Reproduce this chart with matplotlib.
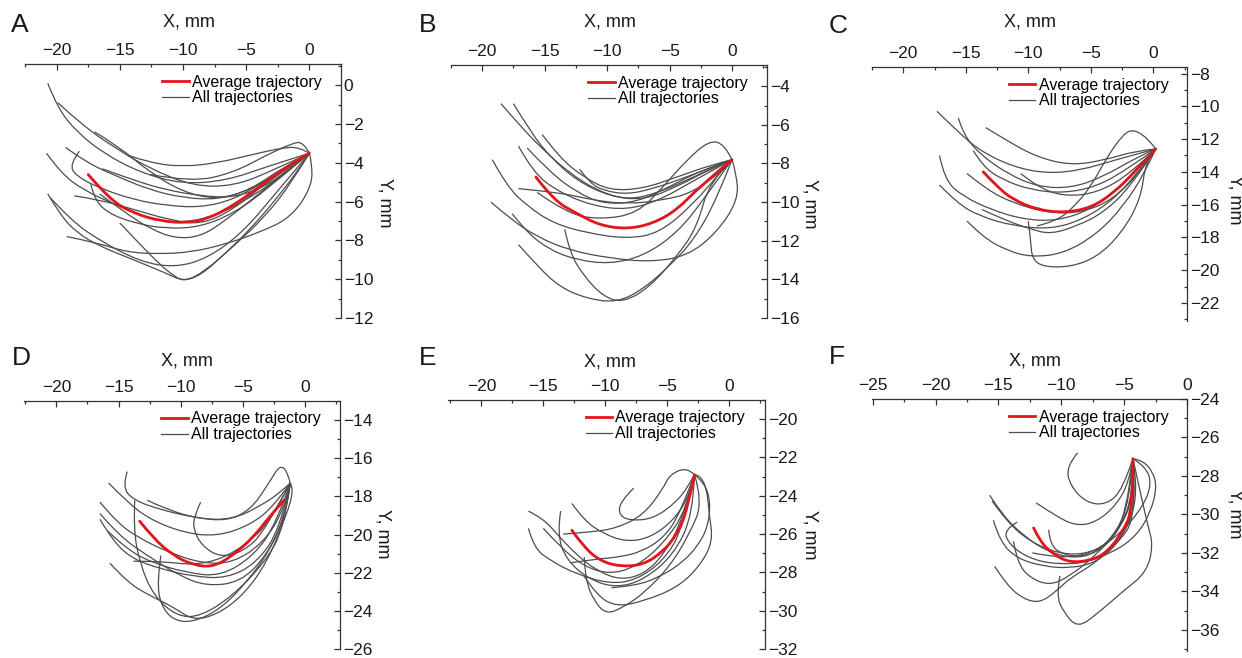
import matplotlib
matplotlib.use('Agg')
import matplotlib.pyplot as plt
from matplotlib.lines import Line2D
from matplotlib.path import Path
from matplotlib.patches import PathPatch
from matplotlib.ticker import MultipleLocator

plt.rcParams['font.family'] = ['Liberation Sans', 'DejaVu Sans']

# ---------------- data (mm) ----------------
# panel A
A_avg = [(-17.5, -4.6), (-15.8, -5.9), (-13.9, -6.6), (-11.8, -7.0), (-9.7, -7.1), (-8.1, -6.9),
         (-6.0, -6.2), (-3.9, -5.2), (-1.8, -4.2), (0, -3.5)]
A_traj = [
    [(-20.7, 0.1), (-19.9, -1.2), (-18.4, -2.4), (-16.3, -3.5), (-13.4, -4.5), (-10.0, -5.1), (-6.5, -4.9), (-3.4, -4.2), (0, -3.5)],
    [(-19.9, -0.9), (-17.9, -2.1), (-15.2, -3.3), (-12.6, -4.3), (-9.2, -5.2), (-6.0, -5.2), (-2.9, -4.4), (0, -3.5)],
    [(-17.0, -2.4), (-15.2, -3.1), (-12.6, -4.5), (-10.0, -5.5), (-7.3, -5.9), (-4.7, -5.4), (-2.0, -4.2), (0, -3.5)],
    [(-14.4, -3.6), (-12.6, -4.0), (-10.0, -4.2), (-7.3, -4.0), (-4.7, -3.6), (-2.0, -3.2), (-0.8, -3.2), (0, -3.5)],
    [(-19.3, -3.2), (-17.6, -4.0), (-15.2, -4.7), (-12.6, -5.4), (-10.0, -5.8), (-7.3, -5.9), (-4.7, -5.4), (-2.0, -4.4), (0, -3.5)],
    [(-18.2, -3.4), (-19.0, -4.1), (-18.4, -4.7), (-16.6, -5.3), (-13.9, -5.9), (-11.3, -6.2), (-8.6, -6.3), (-6.0, -5.9), (-3.4, -4.9), (0, -3.5)],
    [(-20.8, -3.5), (-19.7, -4.5), (-17.9, -5.4), (-15.2, -6.2), (-12.6, -6.9), (-10.0, -7.1), (-7.3, -6.7), (-4.7, -5.8), (-2.0, -4.6), (0, -3.5)],
    [(-18.6, -5.7), (-16.6, -5.9), (-13.9, -6.4), (-11.3, -6.9), (-8.6, -7.2), (-6.0, -6.4), (-3.4, -5.0), (0, -3.5)],
    [(-16.4, -4.3), (-13.9, -4.9), (-11.3, -5.4), (-8.6, -5.7), (-6.0, -5.8), (-3.4, -5.2), (-1.4, -4.2), (0, -3.5)],
    [(-20.7, -5.6), (-19.7, -6.7), (-18.4, -7.6), (-16.6, -8.3), (-13.9, -9.0), (-11.3, -9.7), (-10.0, -10.1), (-8.6, -9.8),
     (-6.7, -8.7), (-4.5, -7.3), (-2.3, -5.6), (-0.7, -4.2), (0, -3.5)],
    [(-19.2, -7.8), (-16.9, -8.1), (-14.5, -8.6), (-11.9, -8.7), (-9.3, -8.6), (-6.7, -8.2), (-4.0, -7.6), (-1.4, -6.8),
     (0.2, -5.2), (0.2, -4.0), (0, -3.5)],
    [(-15.0, -7.1), (-13.4, -8.2), (-11.9, -9.2), (-10.6, -9.9), (-9.8, -10.1), (-8.3, -9.6), (-6.0, -8.3), (-3.4, -6.7), (-1.4, -5.0), (0, -3.5)],
    [(-20.5, -5.8), (-18.8, -7.0), (-16.6, -8.0), (-13.4, -9.1), (-10.6, -9.4), (-8.0, -8.9), (-5.3, -7.6), (-2.7, -5.6), (0, -3.5)],
    [(-17.3, -5.1), (-17.0, -5.9), (-15.9, -6.6), (-13.9, -7.1), (-11.3, -7.4), (-8.6, -7.3), (-6.0, -6.6), (-3.4, -5.4), (0, -3.5)],
    [(-16.6, -5.6), (-14.5, -6.6), (-12.6, -7.4), (-10.6, -7.9), (-8.6, -7.8), (-6.7, -7.0), (-4.0, -5.6), (0, -3.5)],
    [(-12.6, -4.6), (-9.3, -5.0), (-6.0, -4.5), (-3.4, -3.6), (-1.4, -3.0), (-0.5, -2.9), (0, -3.5)],
]

# panel B
B_avg = [(-15.7, -8.7), (-14.3, -9.9), (-12.4, -10.6), (-10.6, -11.2), (-8.4, -11.4), (-6.3, -11.1),
         (-4.4, -10.4), (-2.6, -9.2), (0, -7.8)]
B_traj = [
    [(-18.5, -4.9), (-16.9, -6.1), (-15.1, -7.3), (-13.0, -8.5), (-10.8, -9.4), (-8.4, -9.9), (-5.8, -9.5), (-3.1, -8.7), (0, -7.8)],
    [(-17.5, -4.9), (-16.1, -6.4), (-14.5, -7.7), (-12.4, -8.9), (-9.8, -9.7), (-7.1, -9.9), (-4.4, -9.2), (-1.8, -8.3), (0, -7.8)],
    [(-15.2, -6.5), (-13.8, -7.7), (-11.9, -8.7), (-9.8, -9.4), (-7.1, -9.3), (-4.4, -8.7), (-1.8, -8.1), (0, -7.8)],
    [(-17.1, -7.1), (-15.9, -8.5), (-13.8, -9.5), (-11.1, -10.2), (-8.4, -10.4), (-5.8, -9.9), (-3.1, -8.9), (0, -7.8)],
    [(-16.4, -7.2), (-14.5, -8.5), (-12.4, -9.5), (-10.3, -10.1), (-7.6, -10.0), (-5.0, -9.2), (-2.3, -8.3), (0, -7.8)],
    [(-19.2, -7.8), (-18.0, -9.2), (-16.4, -10.2), (-14.3, -11.1), (-11.6, -11.6), (-8.4, -11.9), (-5.8, -11.6), (-3.1, -10.1),
     (-1.0, -8.5), (0, -7.8)],
    [(-17.1, -9.3), (-13.8, -9.5), (-11.1, -9.9), (-8.4, -10.1), (-5.5, -9.9), (-3.1, -9.5), (-0.45, -8.2), (0, -7.8)],
    [(-19.3, -10.0), (-17.7, -10.9), (-15.6, -11.8), (-13.0, -12.5), (-9.8, -12.9), (-6.6, -13.1), (-3.6, -12.8), (-1.25, -11.6),
     (0.5, -9.9), (0.35, -8.5), (0, -7.8)],
    [(-17.1, -12.2), (-15.6, -13.3), (-13.8, -14.4), (-11.6, -15.0), (-9.2, -15.2), (-7.1, -14.5), (-5.0, -13.3), (-3.1, -12.0),
     (-1.25, -9.9), (0, -7.8)],
    [(-13.4, -11.4), (-13.0, -12.6), (-11.9, -13.8), (-10.3, -14.9), (-8.7, -15.2), (-6.6, -14.4), (-4.4, -12.8), (-2.8, -11.3),
     (-1.8, -8.9), (0, -7.8)],
    [(-15.6, -9.5), (-13.2, -10.6), (-10.6, -10.9), (-7.6, -10.6), (-5.5, -9.2), (-3.6, -7.8), (-1.8, -6.8), (-0.6, -7.0), (0, -7.8)],
    [(-12.2, -8.3), (-11.4, -9.0), (-10.3, -9.4), (-8.4, -9.6), (-6.3, -9.3), (-3.6, -8.7), (0, -7.8)],
    [(-17.6, -10.6), (-16.4, -11.6), (-14.5, -12.5), (-12.4, -13.0), (-9.8, -13.2), (-7.1, -12.8), (-4.4, -11.6), (-2.3, -9.9), (0, -7.8)],
]

# panel C
C_avg = [(-13.6, -14.0), (-12.5, -14.9), (-11.2, -15.7), (-9.3, -16.3), (-7.2, -16.5), (-5.0, -16.2),
         (-3.2, -15.3), (-1.6, -14.1), (0.2, -12.6)]
C_traj = [
    [(-17.3, -10.3), (-15.7, -11.5), (-13.9, -12.7), (-11.2, -13.7), (-8.5, -14.1), (-5.8, -13.9), (-3.2, -13.3), (0.2, -12.6)],
    [(-15.6, -10.7), (-15.2, -11.7), (-13.9, -12.9), (-11.7, -14.1), (-9.3, -14.9), (-6.6, -15.0), (-4.0, -14.3), (-1.3, -13.1), (0.2, -12.6)],
    [(-13.4, -11.3), (-11.7, -12.1), (-9.3, -13.1), (-6.6, -13.6), (-4.0, -13.3), (-1.3, -12.7), (0.2, -12.6)],
    [(-17.1, -13.0), (-16.7, -14.5), (-15.2, -15.5), (-13.0, -16.3), (-10.4, -16.9), (-7.7, -17.0), (-5.0, -16.3), (-2.6, -14.9),
     (-0.9, -13.5), (0.2, -12.6)],
    [(-17.1, -14.8), (-15.7, -15.9), (-13.9, -16.7), (-11.2, -17.3), (-8.2, -17.5), (-5.6, -16.9), (-3.2, -15.7), (-1.3, -14.1), (0.2, -12.6)],
    [(-14.4, -12.7), (-13.6, -13.7), (-12.0, -14.5), (-9.8, -15.1), (-7.2, -15.3), (-4.5, -14.9), (-1.8, -13.7), (0.2, -12.6)],
    [(-14.9, -14.1), (-13.3, -15.1), (-11.2, -15.9), (-8.5, -16.5), (-5.8, -16.5), (-3.2, -15.7), (-0.7, -13.7), (0.2, -12.6)],
    [(-14.9, -17.0), (-13.6, -18.0), (-11.7, -18.8), (-9.8, -19.2), (-7.2, -19.0), (-4.5, -17.8), (-2.4, -16.1), (-0.7, -14.1), (0.2, -12.6)],
    [(-10.0, -17.0), (-9.8, -18.2), (-9.7, -19.3), (-8.8, -19.8), (-6.6, -19.8), (-4.5, -19.2), (-2.6, -17.8), (-1.0, -15.7),
     (-0.6, -13.3), (0.2, -12.6)],
    [(-9.3, -17.3), (-7.7, -17.0), (-6.3, -16.1), (-5.0, -14.9), (-3.7, -13.1), (-2.4, -11.7), (-1.6, -11.4), (-0.5, -11.9), (0.2, -12.6)],
    [(-13.7, -16.3), (-12.0, -16.9), (-9.8, -17.5), (-8.2, -17.8), (-6.1, -17.3), (-4.0, -16.5), (-1.8, -14.9), (0.2, -12.6)],
    [(-10.6, -14.1), (-9.3, -14.9), (-7.2, -15.5), (-4.5, -15.3), (-1.8, -14.1), (0.2, -12.6)],
]

# panel D
D_avg = [(-13.3, -19.3), (-12.2, -20.2), (-10.6, -21.1), (-9.0, -21.6), (-7.4, -21.7), (-5.8, -21.1),
         (-4.1, -20.1), (-2.8, -19.0), (-1.7, -18.2)]
D_traj = [
    [(-14.3, -16.7), (-14.7, -17.5), (-13.8, -18.2), (-11.6, -18.7), (-9.0, -19.1), (-6.3, -19.3), (-4.4, -18.7), (-3.1, -17.5),
     (-1.7, -16.0), (-1.2, -17.3)],
    [(-15.8, -17.3), (-14.3, -18.3), (-12.5, -19.2), (-9.8, -19.9), (-7.1, -20.1), (-4.4, -19.5), (-2.5, -18.5), (-1.2, -17.3)],
    [(-16.5, -18.3), (-15.1, -19.4), (-13.3, -20.2), (-11.1, -20.9), (-8.4, -21.5), (-5.8, -21.5), (-3.3, -20.4), (-1.7, -18.7), (-1.2, -17.3)],
    [(-16.5, -19.2), (-15.4, -20.4), (-13.8, -21.3), (-11.6, -21.8), (-9.0, -22.2), (-6.3, -22.3), (-3.9, -21.5), (-2.0, -19.7), (-1.2, -17.3)],
    [(-15.7, -21.5), (-14.3, -22.5), (-12.5, -23.2), (-10.6, -23.8), (-9.0, -24.5), (-7.1, -24.2), (-5.0, -23.2), (-3.1, -21.5),
     (-1.5, -19.0), (-0.9, -17.6), (-1.2, -17.3)],
    [(-13.7, -18.2), (-13.8, -19.7), (-13.3, -21.5), (-12.2, -23.2), (-10.3, -24.3), (-8.4, -24.3), (-5.8, -23.2), (-3.3, -21.5),
     (-1.7, -19.7), (-1.2, -17.3)],
    [(-8.4, -18.3), (-8.9, -19.0), (-9.0, -19.7), (-8.3, -20.6), (-6.8, -21.2), (-5.0, -20.9), (-3.3, -19.9), (-1.2, -17.3)],
    [(-12.7, -18.2), (-11.1, -18.7), (-8.4, -19.2), (-5.8, -19.2), (-3.6, -18.5), (-2.0, -17.8), (-1.2, -17.3)],
    [(-15.9, -19.8), (-14.3, -20.8), (-12.2, -21.5), (-9.5, -22.0), (-6.8, -22.2), (-4.1, -21.1), (-2.3, -19.4), (-1.2, -17.3)],
    [(-16.5, -18.9), (-14.9, -20.1), (-12.7, -21.1), (-10.0, -22.2), (-7.9, -22.7), (-5.2, -22.5), (-3.1, -21.1), (-1.5, -19.0), (-1.2, -17.3)],
    [(-11.6, -21.1), (-11.9, -22.5), (-11.6, -23.7), (-10.6, -24.5), (-9.0, -24.6), (-6.8, -23.9), (-4.7, -22.5), (-2.8, -20.8),
     (-1.5, -18.7), (-1.2, -17.3)],
    [(-13.8, -21.4), (-11.6, -21.4), (-9.0, -21.6), (-6.8, -21.3), (-4.7, -20.5), (-2.8, -19.3), (-1.2, -17.3)],
]

# panel E
E_avg = [(-12.7, -25.8), (-11.7, -26.7), (-10.4, -27.4), (-8.8, -27.7), (-6.9, -27.6), (-5.3, -26.9),
         (-4.2, -26.0), (-3.4, -24.8), (-2.8, -22.9)]
E_traj = [
    [(-16.2, -24.8), (-15.0, -25.2), (-13.9, -26.0), (-12.3, -27.1), (-10.7, -27.9), (-8.8, -28.4), (-6.9, -28.1), (-5.3, -27.1),
     (-3.7, -25.2), (-2.8, -22.9)],
    [(-16.2, -25.7), (-15.8, -26.7), (-14.4, -27.4), (-12.3, -28.1), (-9.6, -28.6), (-7.5, -28.4), (-5.3, -27.4), (-3.7, -25.7), (-2.8, -22.9)],
    [(-13.6, -24.8), (-13.9, -26.0), (-13.1, -27.4), (-11.2, -28.4), (-9.1, -28.8), (-6.9, -28.4), (-4.5, -27.1), (-2.9, -25.0), (-2.8, -22.9)],
    [(-12.7, -24.4), (-11.7, -25.3), (-10.1, -26.0), (-8.3, -26.4), (-6.4, -26.2), (-4.5, -25.3), (-3.2, -24.0), (-2.8, -22.9)],
    [(-7.7, -23.6), (-8.8, -24.3), (-8.9, -25.0), (-8.0, -25.3), (-6.1, -25.2), (-4.2, -24.3), (-3.2, -23.4), (-2.8, -22.9)],
    [(-13.4, -26.0), (-11.2, -25.9), (-9.1, -25.7), (-6.9, -25.0), (-5.3, -23.6), (-4.8, -22.9), (-3.4, -22.5), (-2.8, -22.9)],
    [(-11.7, -27.2), (-11.6, -28.4), (-10.9, -29.5), (-9.9, -30.2), (-8.5, -29.8), (-6.9, -29.1), (-4.8, -27.7), (-3.2, -26.0),
     (-2.1, -24.3), (-2.8, -22.9)],
    [(-11.7, -28.2), (-10.7, -29.2), (-9.1, -29.8), (-6.9, -29.5), (-4.2, -28.8), (-2.4, -27.7), (-1.3, -26.4), (-1.6, -25.0),
     (-1.8, -23.6), (-2.4, -22.9), (-2.8, -22.9)],
    [(-15.0, -25.7), (-13.6, -26.7), (-11.7, -27.7), (-9.6, -28.1), (-7.5, -27.7), (-5.3, -26.5), (-3.4, -24.7), (-2.8, -22.9)],
    [(-12.8, -27.5), (-10.7, -27.3), (-8.8, -27.2), (-7.0, -26.9), (-5.3, -26.2), (-4.0, -25.0), (-2.8, -22.9)],
    [(-9.5, -28.8), (-7.5, -28.7), (-5.5, -28.2), (-3.8, -27.5), (-2.5, -26.6), (-1.7, -25.6), (-1.5, -24.3), (-2.0, -23.3), (-2.8, -22.9)],
]

# panel F
F_avg = [(-12.2, -30.7), (-11.7, -31.4), (-10.6, -32.1), (-9.3, -32.5), (-7.7, -32.4), (-6.4, -32.0),
         (-5.1, -30.9), (-4.3, -29.7), (-4.3, -27.1)]
F_traj = [
    [(-8.7, -26.8), (-9.6, -27.5), (-9.3, -28.5), (-8.0, -29.4), (-6.4, -29.5), (-5.1, -28.7), (-4.3, -27.1)],
    [(-15.7, -29.0), (-14.6, -30.1), (-13.0, -31.1), (-11.2, -31.9), (-9.0, -32.3), (-7.2, -32.0), (-5.6, -30.9), (-4.6, -29.4), (-4.3, -27.1)],
    [(-15.5, -29.3), (-14.3, -30.4), (-12.5, -31.4), (-10.4, -32.0), (-8.3, -32.1), (-6.4, -31.6), (-4.8, -30.1), (-4.3, -27.1)],
    [(-15.4, -30.3), (-14.9, -31.4), (-13.5, -32.3), (-11.4, -32.7), (-9.3, -32.8), (-7.2, -32.5), (-5.3, -31.4), (-4.0, -29.5), (-4.3, -27.1)],
    [(-12.0, -29.4), (-10.4, -30.1), (-8.8, -30.6), (-7.2, -30.4), (-5.6, -29.5), (-4.6, -28.3), (-4.3, -27.1)],
    [(-15.3, -32.7), (-14.3, -33.7), (-13.0, -34.4), (-11.7, -34.6), (-10.4, -34.0), (-9.3, -33.3), (-7.2, -32.5), (-5.1, -31.1),
     (-3.8, -29.0), (-4.3, -27.1)],
    [(-10.1, -33.2), (-10.4, -34.2), (-9.8, -35.1), (-8.7, -35.9), (-7.2, -35.2), (-5.1, -34.0), (-3.2, -33.0), (-2.7, -31.6),
     (-3.1, -30.6), (-3.6, -29.2), (-4.3, -27.1)],
    [(-13.5, -30.4), (-14.6, -30.8), (-14.1, -31.6), (-12.5, -32.3), (-10.4, -32.6), (-7.7, -32.5), (-5.6, -31.6), (-4.0, -30.1), (-4.3, -27.1)],
    [(-13.8, -31.4), (-13.5, -32.5), (-12.5, -33.3), (-10.9, -33.7), (-9.3, -33.2), (-7.2, -32.1), (-5.3, -30.7), (-4.3, -29.0), (-4.3, -27.1)],
    [(-11.0, -30.8), (-10.9, -31.6), (-9.8, -32.1), (-8.3, -32.2), (-6.7, -31.8), (-5.3, -30.7), (-4.3, -29.2), (-4.3, -27.1)],
    [(-7.7, -32.4), (-5.9, -32.0), (-4.0, -31.1), (-2.9, -29.9), (-2.4, -28.6), (-2.7, -27.8), (-3.5, -27.2), (-4.3, -27.1)],
    [(-12.3, -32.0), (-10.0, -32.3), (-7.5, -32.0), (-5.3, -31.0), (-3.5, -29.6), (-2.8, -28.4), (-3.3, -27.5), (-4.3, -27.1)],
]

panels = ['A', 'B', 'C', 'D', 'E', 'F']
averages = [A_avg, B_avg, C_avg, D_avg, E_avg, F_avg]
trajectories = [A_traj, B_traj, C_traj, D_traj, E_traj, F_traj]
xlims = [(-22.5, 2.5), (-22.5, 2.8), (-22.5, 2.7), (-22.6, 2.8), (-22.7, 2.9), (-25.05, 0.0)]
ylims = [(-12, 1.1), (-16, -2.9), (-23.1, -7.6), (-26, -13.0), (-32, -19.0), (-37.1, -24)]
xticks = [[-20, -15, -10, -5, 0]] * 5 + [[-25, -20, -15, -10, -5, 0]]
yticks = [list(range(0, -13, -2)), list(range(-4, -17, -2)), list(range(-8, -23, -2)),
          list(range(-14, -27, -2)), list(range(-20, -33, -2)), list(range(-24, -37, -2))]

# layout in pixels: left, right, top, bottom
W, H = 1242, 658
boxes = [(25, 341, 64, 318), (451, 767, 65, 318), (872, 1187, 67, 321),
         (24, 340, 401, 649), (448, 765, 400, 649), (872, 1187, 399, 651)]
xlabel_pos = [(0.519, 1.165), (0.503, 1.17), (0.50, 1.177), (0.516, 1.16), (0.511, 1.154), (0.517, 1.15)]
ylabel_pos = [(1.139, 0.453), (1.136, 0.453), (1.152, 0.476), (1.136, 0.464), (1.142, 0.458), (1.152, 0.543)]
letter_pos = [(20, 25), (428, 25), (838, 26), (21, 358), (428, 358), (837, 357)]

fig = plt.figure(figsize=(W / 100, H / 100), dpi=100)
axis_col = '#333333'
gray = '#4d4d4d'
red = '#e3141b'


def smooth_path(pts):
    # quadratic bezier chain: the read points act as control points of the curve
    verts = [pts[0]]
    codes = [Path.MOVETO]
    for k in range(1, len(pts) - 1):
        nxt = pts[k + 1] if k == len(pts) - 2 else ((pts[k][0] + pts[k + 1][0]) / 2, (pts[k][1] + pts[k + 1][1]) / 2)
        verts += [pts[k], nxt]
        codes += [Path.CURVE3, Path.CURVE3]
    if len(pts) == 2:
        verts.append(pts[1])
        codes.append(Path.LINETO)
    return Path(verts, codes)


for i, name in enumerate(panels):
    l, r, t, b = boxes[i]
    ax = fig.add_axes([l / W, 1 - b / H, (r - l) / W, (b - t) / H])
    for tr in trajectories[i]:
        ax.add_patch(PathPatch(smooth_path(tr), facecolor='none', edgecolor=gray, lw=0.9))
    ax.add_patch(PathPatch(smooth_path(averages[i]), facecolor='none', edgecolor=red, lw=2.0, capstyle='round'))

    ax.set_xlim(*xlims[i])
    ax.set_ylim(*ylims[i])
    ax.set_xticks(xticks[i])
    ax.set_yticks(yticks[i])
    ax.xaxis.set_minor_locator(MultipleLocator(2.5))
    ax.yaxis.set_minor_locator(MultipleLocator(1))
    ax.xaxis.tick_top()
    ax.yaxis.tick_right()
    for s in ['bottom', 'left']:
        ax.spines[s].set_visible(False)
    for s in ['top', 'right']:
        ax.spines[s].set_color(axis_col)
        ax.spines[s].set_linewidth(0.9)
    ax.tick_params(which='both', direction='in', colors=axis_col, labelcolor='#1a1a1a', width=0.9)
    ax.tick_params(which='major', length=4, labelsize=12.5)
    ax.tick_params(which='minor', length=2.3)
    ax.tick_params(axis='x', pad=4)
    ax.tick_params(axis='y', pad=2)

    ax.text(*xlabel_pos[i], 'X, mm', transform=ax.transAxes, ha='center', va='center', fontsize=13, color='#1a1a1a')
    ax.text(*ylabel_pos[i], 'Y, mm', transform=ax.transAxes, ha='center', va='center', rotation=270,
            fontsize=13, color='#1a1a1a')

    handles = [Line2D([], [], color=red, lw=2.0), Line2D([], [], color=gray, lw=0.9)]
    ax.legend(handles, ['Average trajectory', 'All trajectories'], loc='upper left',
              bbox_to_anchor=(0.435, 0.958), frameon=False, fontsize=11.5, handlelength=1.65,
              handletextpad=0.2, labelspacing=0.05, borderpad=0, borderaxespad=0)

    fig.text(letter_pos[i][0] / W, 1 - letter_pos[i][1] / H, name, fontsize=19, ha='center', va='center',
             color='#1a1a1a')

fig.savefig('out.png', dpi=100, facecolor='white')
